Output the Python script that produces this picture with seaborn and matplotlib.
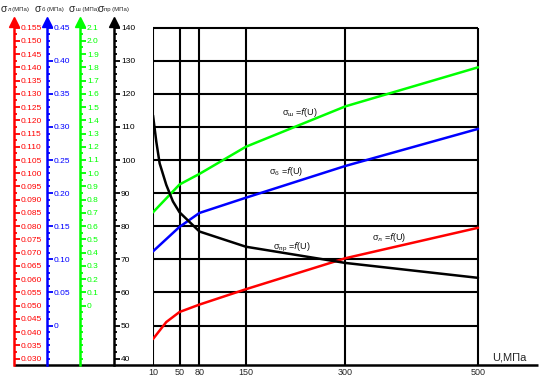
import numpy as np
import matplotlib
matplotlib.use('Agg')
import matplotlib.pyplot as plt
import seaborn as sns
from matplotlib.ticker import FixedLocator

# ---------------- data ----------------
U = [10, 50, 80, 150, 300, 500]
U_pr = [10, 15, 20, 30, 40, 50, 80, 150, 300, 500]
sigma_pr = [113.5, 105.5, 99.0, 92.5, 87.5, 84.2, 78.4, 73.8, 68.9, 64.4]
sigma_sh = [0.705, 0.915, 0.995, 1.20, 1.505, 1.80]
sigma_b = [0.112, 0.149, 0.170, 0.193, 0.241, 0.297]
U_l = [10, 30, 50, 80, 150, 300, 500]
sigma_l = [0.0374, 0.0438, 0.0476, 0.0504, 0.0562, 0.0679, 0.0794]

x_grid = [10, 50, 80, 150, 300, 500]
y_grid = [50, 60, 70, 80, 90, 100, 110, 120, 130, 140]

red_ticks = [round(0.030 + 0.005 * i, 3) for i in range(26)]
red_labels = [f'{v:.3f}' for v in red_ticks]
blue_ticks = [round(0.05 * i, 2) for i in range(10)]
blue_labels = ['0'] + [f'{v:.2f}' for v in blue_ticks[1:]]
green_ticks = [round(0.1 * i, 1) for i in range(22)]
green_labels = ['0'] + [f'{v:.1f}' for v in green_ticks[1:]]
black_ticks = [40, 50, 60, 70, 80, 90, 100, 110, 120, 130, 140]
black_labels = [str(v) for v in black_ticks]

# ---------------- geometry ----------------
W, H = 543, 380
L, R, B, T = 153, 538, 365, 22
pxu = 325 / 490.0
x_lo, x_hi = 10, 10 + (R - L) / pxu
py = 3.31
y40 = 358.6
b_lo = 40 - (B - y40) / py
b_hi = 40 + (y40 - T) / py

to_red = lambda b: 0.03 + (b - 40) * 0.00125
to_blue = lambda b: (b - 50) * 0.005
to_green = lambda b: (b - 56) * 0.025

GREEN = '#00ff00'

sns.set_style('white')
plt.rcParams['font.family'] = ['Liberation Sans', 'DejaVu Sans']

fig = plt.figure(figsize=(W / 100, H / 100), dpi=100)
ax = fig.add_axes([L / W, 1 - B / H, (R - L) / W, (B - T) / H])
ax.set_xlim(x_lo, x_hi)
ax.set_ylim(b_lo, b_hi)
for s in ['left', 'top', 'right', 'bottom']:
    ax.spines[s].set_visible(False)
ax.set_yticks([])
ax.set_xticks(x_grid)
ax.set_xticklabels([str(v) for v in x_grid], fontsize=6.5)
ax.tick_params(axis='x', length=0, pad=2.5)
ax.patch.set_alpha(0)

# grid
ax.vlines(x_grid, b_lo, 140, color='black', lw=1.5, zorder=1)
ax.hlines(y_grid, 10, 500, color='black', lw=1.5, zorder=1)

# bottom axis line extended to the leftmost axis
left_frac = (14 - L) / (R - L)
ax.plot([left_frac, 1.0], [0, 0], transform=ax.transAxes, color='black',
        lw=1.8, clip_on=False, solid_capstyle='butt', zorder=5)

ax.text(521, 40.3, 'U,МПа', fontsize=8, ha='left', va='center')

specs = [
    ('red', 14, to_red, red_ticks, red_labels, 0.0025, 'σ', 'л (МПа)', 1),
    ('blue', 47, to_blue, blue_ticks, blue_labels, 0.01, 'σ', 'б (МПа)', 35),
    (GREEN, 80, to_green, green_ticks, green_labels, 0.05, 'σ', 'ш (МПа)', 69),
    ('black', 114, lambda b: b, black_ticks, black_labels, 2, 'σ', 'пр (МПа)', 98),
]
axes = {}
for color, xpx, fn, ticks, labels, minor, sym, sub, tx in specs:
    tw = ax.twinx()
    tw.set_ylim(fn(b_lo), fn(b_hi))
    for s in ['left', 'top', 'bottom']:
        tw.spines[s].set_visible(False)
    frac = (xpx - L) / (R - L)
    tw.spines['right'].set_position(('axes', frac))
    tw.spines['right'].set_color(color)
    tw.spines['right'].set_linewidth(1.8)
    tw.yaxis.set_ticks_position('right')
    tw.yaxis.set_major_locator(FixedLocator(ticks))
    tw.set_yticklabels(labels)
    lo, hi = fn(b_lo), fn(b_hi)
    n0 = int(np.ceil(lo / minor - 1e-9))
    n1 = int(np.floor(hi / minor + 1e-9))
    tw.yaxis.set_minor_locator(FixedLocator([k * minor for k in range(n0, n1 + 1)]))
    tw.tick_params(axis='y', which='major', length=4, width=1.3, colors=color,
                   labelsize=6, pad=1)
    tw.tick_params(axis='y', which='minor', length=2.5, width=1.3, colors=color)
    tw.plot([frac], [1.0], marker='^', markersize=7, color=color,
            transform=tw.transAxes, clip_on=False)
    fig.text(tx / W, 1 - 8.5 / H, sym, fontsize=7.5, ha='left', va='center')
    fig.text((tx + 6.5) / W, 1 - 10 / H, sub, fontsize=4.3, ha='left', va='center')
    axes[color] = tw

ax_r, ax_b, ax_g, ax_k = axes['red'], axes['blue'], axes[GREEN], axes['black']
for a in (ax_r, ax_b, ax_g, ax_k):
    a.set_xlim(x_lo, x_hi)

sns.lineplot(x=U_l, y=sigma_l, ax=ax_r, color='red', lw=1.8, sort=True)
sns.lineplot(x=U, y=sigma_b, ax=ax_b, color='blue', lw=1.8, sort=True)
sns.lineplot(x=U, y=sigma_sh, ax=ax_g, color=GREEN, lw=1.8, sort=True)
sns.lineplot(x=U_pr, y=sigma_pr, ax=ax_k, color='black', lw=1.8, sort=True)
for a in (ax_r, ax_b, ax_g, ax_k):
    a.set_xlabel('')
    a.set_ylabel('')

lbl = dict(fontsize=6.5, ha='left', va='center', color='#111111')
ax_k.text(204, 114.3, 'σ$_\\mathregular{ш}$ =$\\it{f}$(U)', **lbl)
ax_k.text(185, 96.5, 'σ$_\\mathregular{б}$ =$\\it{f}$(U)', **lbl)
ax_k.text(191, 73.7, 'σ$_\\mathregular{пр}$ =$\\it{f}$(U)', **lbl)
ax_k.text(340, 76.6, 'σ$_\\mathregular{л}$ =$\\it{f}$(U)', **lbl)

fig.savefig('out.png', dpi=100)
